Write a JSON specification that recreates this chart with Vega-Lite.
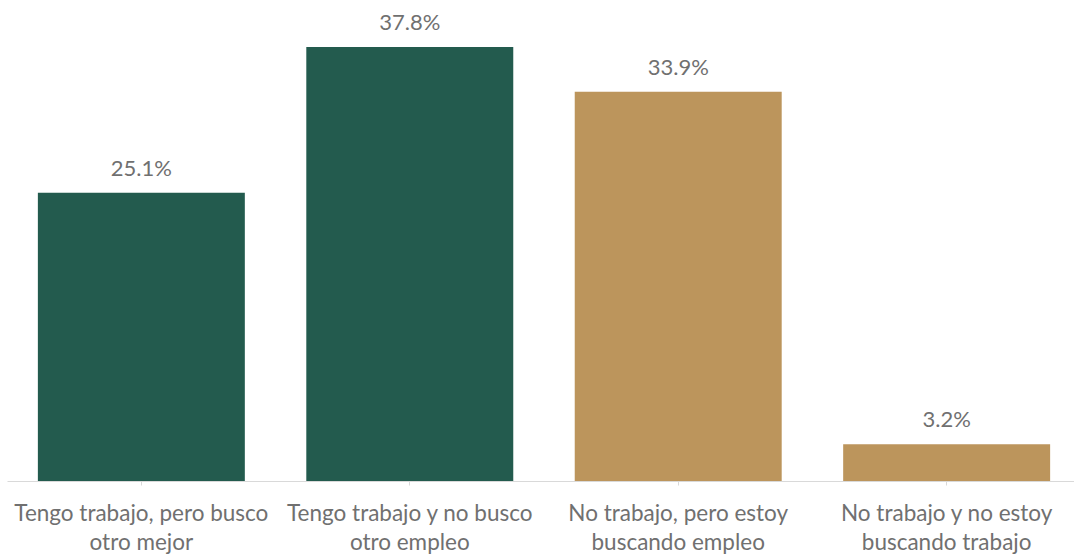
{
  "$schema": "https://vega.github.io/schema/vega-lite/v6.json",
  "width": 1074,
  "height": 481,
  "autosize": "none",
  "padding": {"left": 7, "top": 0, "right": 0, "bottom": 79},
  "background": "white",
  "config": {"view": {"stroke": null}, "font": "Lato"},
  "data": {"values": [
    {"cat": "Tengo trabajo, pero busco otro mejor", "grupo": "Trabaja", "pct": 0.251},
    {"cat": "Tengo trabajo y no busco otro empleo", "grupo": "Trabaja", "pct": 0.378},
    {"cat": "No trabajo, pero estoy buscando empleo", "grupo": "No trabaja", "pct": 0.339},
    {"cat": "No trabajo y no estoy buscando trabajo", "grupo": "No trabaja", "pct": 0.032}
  ]},
  "encoding": {
    "x": {
      "field": "cat", "type": "nominal", "sort": null,
      "scale": {"paddingInner": 0.229, "paddingOuter": 0.115},
      "axis": {
        "title": null, "labelAngle": 0, "domainColor": "#d9d9d9", "tickColor": "#d9d9d9",
        "tickSize": 4, "labelFontSize": 22.5, "labelColor": "#707070", "labelPadding": 17,
        "labelLineHeight": 29, "labelBaseline": "top", "labelLimit": 400,
        "labelExpr": "datum.value == 'Tengo trabajo, pero busco otro mejor' ? ['Tengo trabajo, pero busco', 'otro mejor'] : datum.value == 'Tengo trabajo y no busco otro empleo' ? ['Tengo trabajo y no busco', 'otro empleo'] : datum.value == 'No trabajo, pero estoy buscando empleo' ? ['No trabajo, pero estoy', 'buscando empleo'] : ['No trabajo y no estoy', 'buscando trabajo']"
      }
    },
    "y": {"field": "pct", "type": "quantitative", "scale": {"domain": [0, 0.419]}, "axis": null}
  },
  "layer": [
    {
      "mark": {"type": "bar"},
      "encoding": {
        "color": {"field": "grupo", "type": "nominal", "scale": {"domain": ["Trabaja", "No trabaja"], "range": ["#235B4E", "#BC955C"]}, "legend": null}
      }
    },
    {
      "mark": {"type": "text", "baseline": "alphabetic", "dy": -17, "fontSize": 22, "color": "#707070"},
      "encoding": {"text": {"field": "pct", "type": "quantitative", "format": ".1%"}}
    }
  ]
}
